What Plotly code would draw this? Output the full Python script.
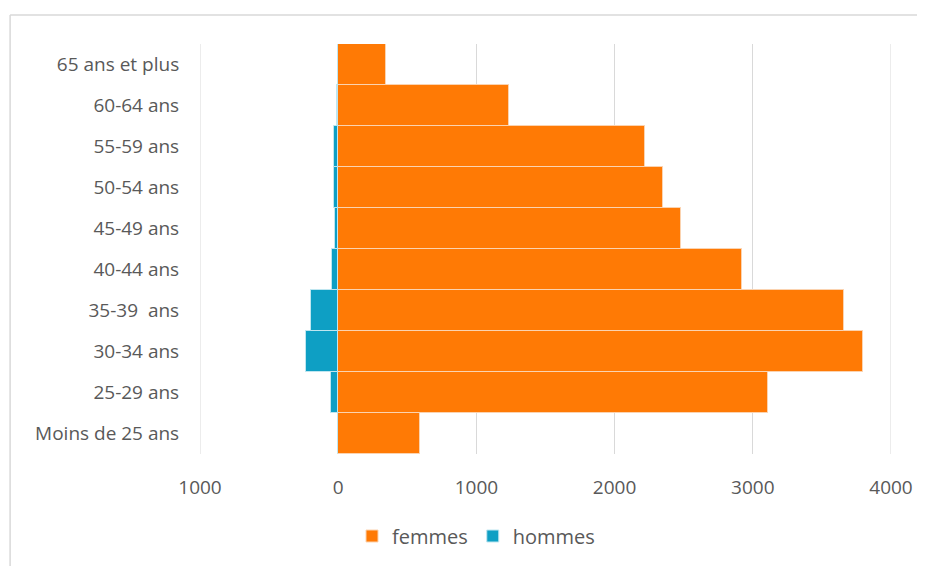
import plotly.graph_objects as go

categories = ["Moins de 25 ans", "25-29 ans", "30-34 ans", "35-39\u00a0 ans", "40-44 ans",
              "45-49 ans", "50-54 ans", "55-59 ans", "60-64 ans", "65 ans et plus"]
femmes = [590, 3108, 3799, 3663, 2925, 2481, 2348, 2220, 1234, 345]
hommes = [-5, -55, -232, -197, -43, -25, -27, -29, -10, -2]
tick_vals = [-1000, 0, 1000, 2000, 3000, 4000]
tick_text = ["1000", "0", "1000", "2000", "3000", "4000"]

# page body has an 8px margin; work in page coordinates minus 8
OFF = 8
W, H = 925 - OFF, 566 - OFF
L, R, T, B = 200 - OFF, 895 - OFF, 44 - OFF, 454 - OFF

fig = go.Figure()
fig.add_trace(go.Bar(y=categories, x=femmes, orientation="h", name="femmes",
                     marker=dict(color="#FF7A05", line=dict(color="#FBD3B0", width=1))))
fig.add_trace(go.Bar(y=categories, x=hommes, orientation="h", name="hommes",
                     marker=dict(color="#0E9FC4", line=dict(color="#BFE6F0", width=1))))

font_col = "#595959"
fig.update_layout(
    width=W, height=H,
    margin=dict(l=L, r=W - R, t=T, b=H - B),
    paper_bgcolor="white", plot_bgcolor="white",
    barmode="relative", bargap=0,
    font=dict(family="Open Sans, Liberation Sans, sans-serif", size=19, color=font_col),
    xaxis=dict(range=[-1000, 4000], tickvals=tick_vals, ticktext=tick_text,
               showgrid=True, gridcolor="#D9D9D9", gridwidth=1, zeroline=False,
               showline=False, ticks="outside", ticklen=16, tickcolor="rgba(0,0,0,0)",
               tickfont=dict(size=19, color=font_col)),
    yaxis=dict(categoryorder="array", categoryarray=categories, showgrid=False,
               zeroline=False, showline=False, ticks="outside", ticklen=16,
               tickcolor="rgba(0,0,0,0)", tickfont=dict(size=19, color=font_col)),
    legend=dict(orientation="h", xref="container", yref="container",
                x=(476 - OFF) / W, y=1 - (536 - OFF) / H, xanchor="center", yanchor="middle",
                font=dict(size=20, color=font_col), traceorder="normal",
                itemwidth=30),
    showlegend=True,
)

# gridlines at the range edges (plotly hides them at the plot border)
for v in (tick_vals[0], tick_vals[-1]):
    fig.add_shape(type="line", xref="x", yref="paper", x0=v, x1=v, y0=0, y1=1,
                  line=dict(color="#D9D9D9", width=1), layer="below")

# outer frame (left and top edges)
fx0 = (9 - OFF - L) / (R - L)
fx1 = (925 - OFF - L) / (R - L)
fy_top = (B - (15 - OFF)) / (B - T)
fy_bot = (B - (566 - OFF)) / (B - T)
fig.add_shape(type="line", xref="paper", yref="paper", x0=fx0, x1=fx1, y0=fy_top, y1=fy_top,
              line=dict(color="#D9D9D9", width=1.5))
fig.add_shape(type="line", xref="paper", yref="paper", x0=fx0, x1=fx0, y0=fy_top, y1=fy_bot,
              line=dict(color="#D9D9D9", width=1.5))

fig.write_html("out.html")
